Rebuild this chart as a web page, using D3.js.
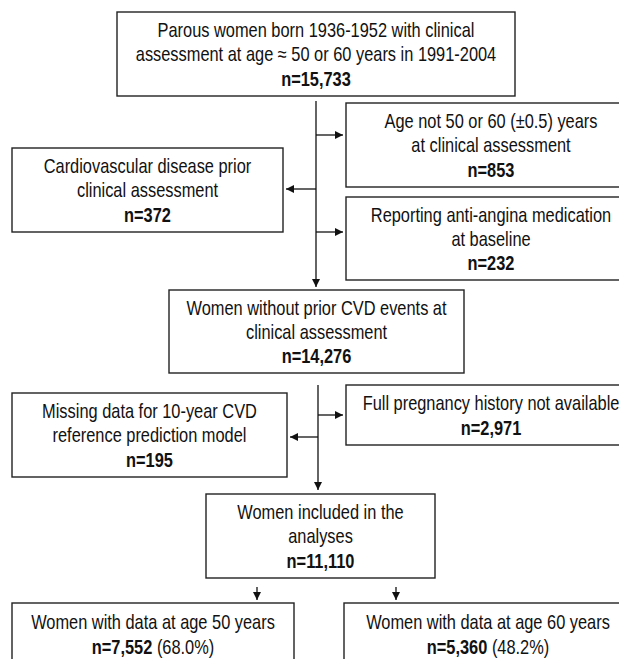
<!DOCTYPE html>
<html>
<head>
<meta charset="utf-8">
<script src="https://cdn.jsdelivr.net/npm/d3@7"></script>
<style>
  html, body { margin: 0; padding: 0; background: #fff; overflow: hidden; }
  svg { display: block; }
  .box text { font-family: 'Liberation Sans', Arial, sans-serif; fill: #111; }
</style>
</head>
<body>
<svg id="chart"></svg>
<script>
// flow steps (text + counts)
const stepIds = ['start', 'ageNot', 'cvdPrior', 'angina', 'noCvd', 'pregnancy', 'missing', 'included', 'age50', 'age60'];
const stepLabels = [
  ['Parous women born 1936-1952 with clinical', 'assessment at age \u2248 50 or 60 years in 1991-2004'],
  ['Age not 50 or 60 (\u00b10.5) years', 'at clinical assessment'],
  ['Cardiovascular disease prior', 'clinical assessment'],
  ['Reporting anti-angina medication', 'at baseline'],
  ['Women without prior CVD events at', 'clinical assessment'],
  ['Full pregnancy history not available'],
  ['Missing data for 10-year CVD', 'reference prediction model'],
  ['Women included in the', 'analyses'],
  ['Women with data at age 50 years'],
  ['Women with data at age 60 years']
];
const stepCounts = [15733, 853, 372, 232, 14276, 2971, 195, 11110, 7552, 5360];
const stepShares = [null, null, null, null, null, null, null, null, 68.0, 48.2];

// layout (px)
const width = 619, height = 659;
const lineGap = 24;
const fontSize = 20;
const narrow = 0.82; // Arial Narrow look from a horizontally squeezed sans
const boxLayout = {
  start:     { x0: 117, x1: 515, y0: 12,  y1: 96 },
  ageNot:    { x0: 346, x1: 636, y0: 103, y1: 187 },
  cvdPrior:  { x0: 12,  x1: 283, y0: 148, y1: 232 },
  angina:    { x0: 346, x1: 636, y0: 197, y1: 280 },
  noCvd:     { x0: 169, x1: 464, y0: 290, y1: 373 },
  pregnancy: { x0: 346, x1: 636, y0: 385, y1: 445 },
  missing:   { x0: 12,  x1: 287, y0: 393, y1: 477 },
  included:  { x0: 206, x1: 435, y0: 494, y1: 578 },
  age50:     { x0: 12,  x1: 294, y0: 603, y1: 665 },
  age60:     { x0: 344, x1: 632, y0: 603, y1: 665 }
};
// trunks and side branches
const trunks = [
  { x: 316, y0: 101, y1: 287 },
  { x: 318, y0: 385, y1: 490 }
];
const branches = [
  { x0: 316, x1: 343, y: 135 },
  { x0: 316, x1: 286, y: 189 },
  { x0: 316, x1: 343, y: 232 },
  { x0: 318, x1: 343, y: 415 },
  { x0: 318, x1: 290, y: 437 }
];
const splitArrows = [
  { x: 257, y0: 587, y1: 600 },
  { x: 396, y0: 587, y1: 600 }
];

const fmtN = d3.format(',');
const fmtP = d3.format('.1f');

const svg = d3.select('#chart')
  .attr('width', width)
  .attr('height', height);

svg.append('defs').append('marker')
  .attr('id', 'arrow')
  .attr('viewBox', '0 0 10 10')
  .attr('refX', 10)
  .attr('refY', 5)
  .attr('markerUnits', 'userSpaceOnUse')
  .attr('markerWidth', 9)
  .attr('markerHeight', 8)
  .attr('orient', 'auto')
  .append('path')
  .attr('d', 'M0,0 L10,5 L0,10 Z')
  .attr('fill', '#111');

const steps = stepIds.map((id, i) => ({
  id,
  lines: stepLabels[i],
  count: stepCounts[i],
  share: stepShares[i],
  ...boxLayout[id]
}));

// connectors
const links = svg.append('g').attr('class', 'links')
  .attr('stroke', '#111')
  .attr('stroke-width', 1.3)
  .attr('fill', 'none');

links.selectAll('.trunk')
  .data(trunks)
  .enter()
  .append('line')
  .attr('class', 'trunk')
  .attr('x1', d => d.x).attr('x2', d => d.x)
  .attr('y1', d => d.y0).attr('y2', d => d.y1)
  .attr('marker-end', 'url(#arrow)');

links.selectAll('.branch')
  .data(branches)
  .enter()
  .append('line')
  .attr('class', 'branch')
  .attr('x1', d => d.x0).attr('x2', d => d.x1)
  .attr('y1', d => d.y).attr('y2', d => d.y)
  .attr('marker-end', 'url(#arrow)');

links.selectAll('.split')
  .data(splitArrows)
  .enter()
  .append('line')
  .attr('class', 'split')
  .attr('x1', d => d.x).attr('x2', d => d.x)
  .attr('y1', d => d.y0).attr('y2', d => d.y1)
  .attr('marker-end', 'url(#arrow)');

// boxes
const box = svg.selectAll('.box')
  .data(steps)
  .enter()
  .append('g')
  .attr('class', 'box');

box.append('rect')
  .attr('x', d => d.x0)
  .attr('y', d => d.y0)
  .attr('width', d => d.x1 - d.x0)
  .attr('height', d => d.y1 - d.y0)
  .attr('fill', '#fff')
  .attr('stroke', '#222')
  .attr('stroke-width', 1.4);

box.each(function(d) {
  const g = d3.select(this);
  const cx = (d.x0 + Math.min(d.x1, width + 17)) / 2;
  const n = d.lines.length + 1;
  const firstY = (d.y0 + d.y1) / 2 - (n - 1) * lineGap / 2;

  d.lines.forEach((t, i) => {
    g.append('text')
      .attr('transform', `translate(${cx},${firstY + i * lineGap}) scale(${narrow},1)`)
      .attr('text-anchor', 'middle')
      .attr('dominant-baseline', 'central')
      .style('font-size', fontSize + 'px')
      .text(t);
  });

  const nText = g.append('text')
    .attr('transform', `translate(${cx},${firstY + d.lines.length * lineGap}) scale(${narrow},1)`)
    .attr('text-anchor', 'middle')
    .attr('dominant-baseline', 'central')
    .style('font-size', fontSize + 'px');
  nText.append('tspan')
    .attr('font-weight', 'bold')
    .text('n=' + fmtN(d.count));
  if (d.share != null) {
    nText.append('tspan').text(' (' + fmtP(d.share) + '%)');
  }
});
</script>
</body>
</html>
